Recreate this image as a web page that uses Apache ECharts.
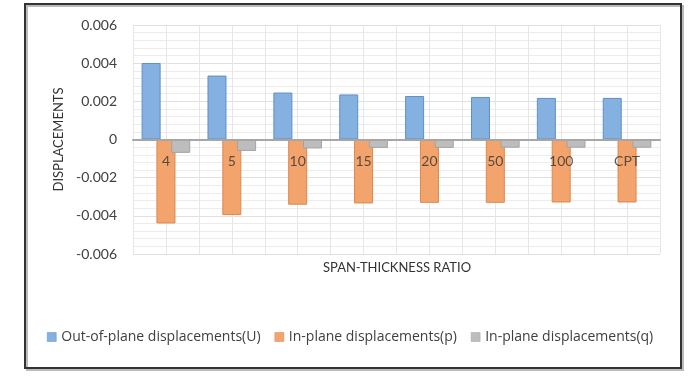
<!DOCTYPE html>
<html>
<head>
<meta charset="utf-8">
<script src="https://cdn.jsdelivr.net/npm/echarts@6/dist/echarts.min.js"></script>
<style>html,body{margin:0;padding:0;background:#fff}#c{width:700px;height:380px}</style>
</head>
<body>
<div id="c"></div>
<script>
const categories = ['4', '5', '10', '15', '20', '50', '100', 'CPT'];
const outOfPlaneU = [0.00401, 0.00335, 0.00246, 0.00236, 0.00228, 0.00223, 0.00218, 0.00218];
const inPlaneP = [-0.0044, -0.00396, -0.00342, -0.00335, -0.00332, -0.00332, -0.0033, -0.0033];
const inPlaneQ = [-0.0007, -0.0006, -0.00047, -0.00044, -0.00044, -0.00043, -0.00043, -0.00043];
const seriesNames = ['Out-of-plane displacements(U)', 'In-plane displacements(p)', 'In-plane displacements(q)'];
const yTicks = { min: -0.006, max: 0.006, interval: 0.002 };

const FONT = 'Lato, "Open Sans", sans-serif';
const LFONT = '"Open Sans", Lato, sans-serif';
const chart = echarts.init(document.getElementById('c'), null, { renderer: 'canvas' });
const barStyle = (fill, border) => ({ color: fill, borderColor: border, borderWidth: 1 });
const gridBox = { left: 133, right: 40, top: 25, bottom: 126, containLabel: false };

chart.setOption({
  animation: false,
  backgroundColor: '#fff',
  textStyle: { fontFamily: FONT },
  grid: [Object.assign({}, gridBox), Object.assign({}, gridBox)],
  graphic: [
    { type: 'rect', shape: { x: 27, y: 6, width: 656, height: 364 }, style: { fill: 'none', stroke: '#bbb', lineWidth: 2 }, z: -1 },
    { type: 'rect', shape: { x: 25, y: 4, width: 656, height: 364 }, style: { fill: 'none', stroke: '#333', lineWidth: 2 } },
    { type: 'text', x: 397, y: 268, style: { text: 'SPAN-THICKNESS RATIO', font: '13px ' + FONT, fill: '#333', textAlign: 'center', textVerticalAlign: 'middle' } }
  ],
  legend: {
    data: seriesNames,
    left: 42, top: 325,
    icon: 'rect', itemWidth: 9, itemHeight: 9, itemGap: 14, itemStyle: { borderWidth: 0.5 },
    textStyle: { fontSize: 14, color: '#404040', fontFamily: LFONT }
  },
  xAxis: [
    {
      type: 'category', data: categories, gridIndex: 0,
      axisLine: { onZero: true, lineStyle: { color: '#A6A6A6', width: 2 } },
      axisTick: { show: false },
      axisLabel: { show: false },
      splitLine: { show: false }, z: 5
    },
    {
      type: 'value', min: 0, max: categories.length * 2, interval: 1, gridIndex: 1,
      axisLine: { show: false, onZero: false }, axisTick: { show: false }, axisLabel: { show: false },
      splitLine: { show: true, lineStyle: { color: '#E6E6E6', width: 1 } }
    }
  ],
  yAxis: [
    {
      type: 'value', min: yTicks.min, max: yTicks.max, interval: yTicks.interval, gridIndex: 0,
      name: 'DISPLACEMENTS', nameLocation: 'middle', nameRotate: 90, nameGap: 68,
      nameTextStyle: { fontSize: 13, color: '#333', fontFamily: FONT },
      axisLine: { show: false }, axisTick: { show: false },
      axisLabel: { fontSize: 14, color: '#404040', margin: 16, fontFamily: FONT,
        formatter: v => Math.abs(v) < 1e-12 ? '0' : v.toFixed(3) },
      splitLine: { show: true, lineStyle: { color: '#E0E0E0', width: 1 } },
      minorTick: { show: false, splitNumber: 5 },
      minorSplitLine: { show: true, lineStyle: { color: '#ECECEC', width: 1 } }
    },
    {
      type: 'value', min: 0, max: 1, gridIndex: 1, show: false
    }
  ],
  series: [
    { type: 'scatter', xAxisIndex: 1, yAxisIndex: 1, data: [], silent: true },
    { name: seriesNames[0], type: 'bar', data: outOfPlaneU, barWidth: 19, barGap: '-22%', barCategoryGap: '25%', itemStyle: barStyle('#85B1E0', '#5F8FC6') },
    { name: seriesNames[1], type: 'bar', data: inPlaneP, barWidth: 19, barGap: '-22%', itemStyle: barStyle('#F2A46C', '#DE874C') },
    { name: seriesNames[2], type: 'bar', data: inPlaneQ, barWidth: 19, barGap: '-22%', itemStyle: barStyle('#BDBDBD', '#A3A3A3') },
    {
      type: 'scatter', xAxisIndex: 0, yAxisIndex: 0, silent: true, z: 10,
      symbolSize: 1, itemStyle: { color: 'rgba(0,0,0,0)' },
      data: categories.map(c => [c, 0]),
      label: { show: true, position: 'inside', offset: [0, 22], formatter: p => p.value[0],
        fontSize: 14, color: '#333', fontFamily: FONT }
    }
  ]
});
</script>
</body>
</html>
